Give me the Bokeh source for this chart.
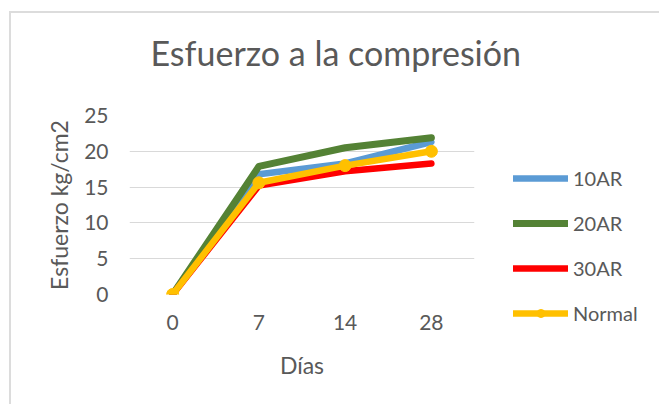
from bokeh.plotting import figure
from bokeh.models import FactorRange, Range1d, Legend, LegendItem, Title, FixedTicker
from bokeh.embed import file_html
from bokeh.resources import INLINE

dias = ["0", "7", "14", "28"]
ar10 = [0, 16.8, 18.3, 21.3]
ar20 = [0, 17.9, 20.5, 21.9]
ar30 = [0, 15.2, 17.2, 18.3]
normal = [0, 15.6, 18.0, 20.0]
y_ticks = [0, 5, 10, 15, 20, 25]

FONT = "Lato"
GRAY = "#595959"

p = figure(frame_width=345, frame_height=179, x_range=FactorRange(*dias, range_padding=0),
           y_range=Range1d(0, 25), output_backend="svg", toolbar_location=None,
           min_border_left=118, min_border_right=0, min_border_top=98, min_border_bottom=110)
p.margin = (11, 0, 0, 9)
p.styles = {"border-left": "2px solid #dcdcdc", "border-top": "2px solid #dcdcdc"}
p.outline_line_color = None
p.xgrid.grid_line_color = None
p.ygrid.grid_line_color = "#d9d9d9"
p.ygrid.grid_line_width = 1.2
p.yaxis.ticker = FixedTicker(ticks=y_ticks)

for ax in (p.xaxis, p.yaxis):
    ax.axis_line_color = None
    ax.major_tick_line_color = None
    ax.minor_tick_line_color = None
    ax.major_label_text_font = FONT
    ax.major_label_text_font_size = "21px"
    ax.major_label_text_color = GRAY
    ax.axis_label_text_font = FONT
    ax.axis_label_text_font_size = "23px"
    ax.axis_label_text_color = GRAY
    ax.axis_label_text_font_style = "normal"

p.xaxis.axis_label = "Días"
p.yaxis.axis_label = "Esfuerzo kg/cm2"
p.xaxis.major_label_standoff = 14
p.xaxis.axis_label_standoff = 18
p.yaxis.major_label_standoff = 15
p.yaxis.axis_label_standoff = 8

r1 = p.line(dias, ar10, line_color="#5B9BD5", line_width=6.5, line_cap="round", line_join="round")
r2 = p.line(dias, ar20, line_color="#548235", line_width=7, line_cap="round", line_join="round")
r3 = p.line(dias, ar30, line_color="#FF0000", line_width=6.5, line_cap="round", line_join="round")
r4 = p.line(dias, normal, line_color="#FFC000", line_width=6.5, line_cap="round", line_join="round")
r5 = p.scatter(dias, normal, size=12, fill_color="#FFC000", line_color="#FFC000")

legend = Legend(items=[LegendItem(label="10AR", renderers=[r1]),
                       LegendItem(label="20AR", renderers=[r2]),
                       LegendItem(label="30AR", renderers=[r3]),
                       LegendItem(label="Normal", renderers=[r4, r5])],
                location=(39, -31), orientation="vertical",
                background_fill_alpha=0, border_line_color=None,
                glyph_width=55, glyph_height=20, label_height=20, spacing=21,
                label_standoff=5, padding=0, margin=0,
                label_text_font=FONT, label_text_font_size="20px", label_text_color=GRAY)
p.add_layout(legend, "right")

spacer = Title(text=" ", text_font_size="1px", standoff=24)
p.add_layout(spacer, "above")

title = Title(text="Esfuerzo a la compresión", align="left", offset=21, standoff=32,
              text_font=FONT, text_font_size="34px", text_color=GRAY, text_font_style="normal")
p.add_layout(title, "above")

open("out.html", "w").write(file_html(p, INLINE))
